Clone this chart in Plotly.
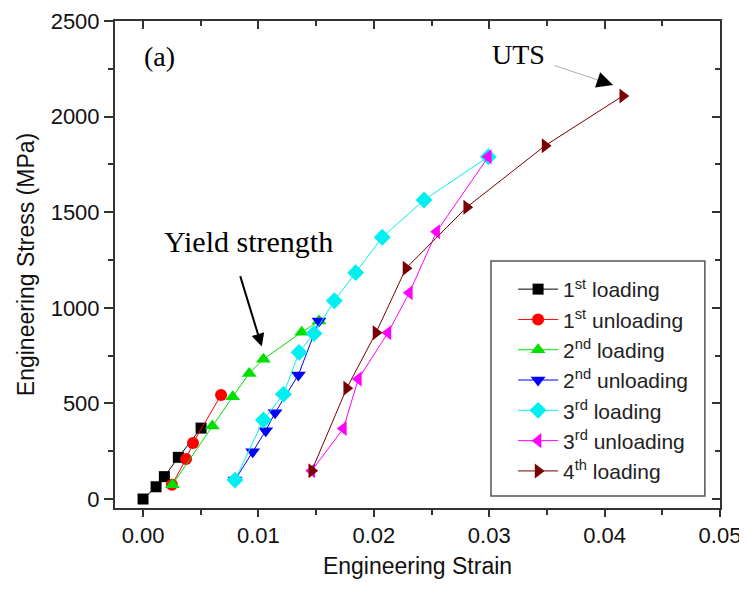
import plotly.graph_objects as go

# ---- data ----
load1_x = [0.0, 0.00113, 0.00185, 0.00306, 0.00503]
load1_y = [0, 64, 117, 218, 371]

unload1_x = [0.00676, 0.00433, 0.00373, 0.0025]
unload1_y = [544, 293, 209, 75]

load2_x = [0.00254, 0.0060, 0.00777, 0.0092, 0.01043, 0.01375, 0.01525]
load2_y = [75, 382, 535, 657, 731, 872, 931]

unload2_x = [0.01525, 0.01346, 0.01144, 0.01063, 0.0095, 0.00797]
unload2_y = [931, 649, 451, 357, 247, 99]

load3_x = [0.00797, 0.01043, 0.01217, 0.01352, 0.01482, 0.01658, 0.01843, 0.02073, 0.02435, 0.02992]
load3_y = [99, 413, 548, 767, 866, 1037, 1184, 1369, 1564, 1790]

unload3_x = [0.02992, 0.02544, 0.02308, 0.02123, 0.01866, 0.01736, 0.01462]
unload3_y = [1790, 1398, 1079, 870, 628, 369, 148]

load4_x = [0.01462, 0.01765, 0.02019, 0.02279, 0.02805, 0.03484, 0.04157]
load4_y = [148, 579, 870, 1207, 1526, 1848, 2108]

names = ["1<sup>st</sup> loading", "1<sup>st</sup> unloading", "2<sup>nd</sup> loading",
         "2<sup>nd</sup> unloading", "3<sup>rd</sup> loading", "3<sup>rd</sup> unloading",
         "4<sup>th</sup> loading"]
colors = ["#000000", "#ff0000", "#00e000", "#0000ff", "#00f0f0", "#ff00ff", "#7a0000"]
symbols = ["square", "circle", "triangle-up", "triangle-down", "diamond", "triangle-left", "triangle-right"]
xs = [load1_x, unload1_x, load2_x, unload2_x, load3_x, unload3_x, load4_x]
ys = [load1_y, unload1_y, load2_y, unload2_y, load3_y, unload3_y, load4_y]
sizes = [11, 12, 13, 13, 13, 13, 13]

x_ticks = [0, 0.01, 0.02, 0.03, 0.04, 0.05]
x_ticktext = ["0.00", "0.01", "0.02", "0.03", "0.04", "0.05"]
x_minor = [0.005, 0.015, 0.025, 0.035, 0.045]
y_ticks = [0, 500, 1000, 1500, 2000, 2500]
y_minor = [250, 750, 1250, 1750, 2250]

fig = go.Figure()
for n, c, s, x, y, sz in zip(names, colors, symbols, xs, ys, sizes):
    fig.add_trace(go.Scatter(x=x, y=y, name=n, mode="lines+markers",
                             line=dict(color=c, width=1),
                             marker=dict(color=c, symbol=s, size=sz, line=dict(width=0))))

# invisible trace for mirror axes
fig.add_trace(go.Scatter(x=[0], y=[0], xaxis="x2", yaxis="y2", mode="markers",
                         marker=dict(opacity=0), showlegend=False, hoverinfo="skip"))

XR = [-0.00243, 0.05]
YR = [-47, 2500]
axcol = "#333333"
fig.update_layout(
    width=739, height=584,
    margin=dict(l=107, r=27, t=13, b=84),
    paper_bgcolor="white", plot_bgcolor="white",
    font=dict(family="Liberation Sans, Arial", size=22, color="#111111"),
    showlegend=True,
    legend=dict(x=0.658, y=0.4908, xanchor="left", yanchor="top",
                borderwidth=0, bgcolor="rgba(0,0,0,0)",
                font=dict(size=21, color="#222222"), itemwidth=40, tracegroupgap=0),
    xaxis=dict(range=XR, tickvals=x_ticks, ticktext=x_ticktext,
               ticks="outside", ticklen=7, tickwidth=1.5, tickcolor=axcol,
               minor=dict(tickvals=x_minor, ticks="outside",
                          ticklen=5, tickcolor=axcol, tickwidth=1.5),
               showline=True, linecolor=axcol, linewidth=2, showgrid=False, zeroline=False,
               automargin=False,
               title=dict(text="Engineering Strain", font=dict(size=23), standoff=10)),
    yaxis=dict(range=YR, tickvals=y_ticks,
               ticks="outside", ticklen=9, tickwidth=1.5, tickcolor=axcol,
               minor=dict(tickvals=y_minor, ticks="outside",
                          ticklen=5, tickcolor=axcol, tickwidth=1.5),
               showline=True, linecolor=axcol, linewidth=2, showgrid=False, zeroline=False,
               automargin=False,
               title=dict(text="Engineering Stress (MPa)", font=dict(size=23), standoff=10)),
    xaxis2=dict(range=XR, overlaying="x", side="top", anchor="y",
                tickvals=x_ticks, showticklabels=False,
                ticks="inside", ticklen=8, tickwidth=1.5, tickcolor=axcol,
                minor=dict(tickvals=x_minor, ticks="inside",
                           ticklen=5, tickcolor=axcol, tickwidth=1.5),
                showline=True, linecolor=axcol, linewidth=2, showgrid=False, zeroline=False),
    yaxis2=dict(range=YR, overlaying="y", side="right", anchor="x",
                tickvals=y_ticks, showticklabels=False,
                ticks="inside", ticklen=8, tickwidth=1.5, tickcolor=axcol,
                minor=dict(tickvals=y_minor, ticks="inside",
                           ticklen=5, tickcolor=axcol, tickwidth=1.5),
                showline=True, linecolor=axcol, linewidth=2, showgrid=False, zeroline=False),
)

# legend frame
fig.add_shape(type="rect", xref="paper", yref="paper", x0=0.6215, x1=0.975, y0=0.0246, y1=0.507,
              line=dict(color="#555555", width=1.5), fillcolor="white", layer="above")

serif = "Liberation Serif, Times New Roman"
fig.add_annotation(x=-0.0001, y=2316, text="(a)", showarrow=False, xanchor="left",
                   font=dict(family=serif, size=28, color="black"))
# UTS arrow: thin grey shaft + black head
fig.add_annotation(x=0.04073, y=2165, text="", showarrow=True, arrowhead=0,
                   arrowwidth=0.8, arrowcolor="#999999", ax=-60, ay=-20)
fig.add_annotation(x=0.04073, y=2165, text="", showarrow=True, arrowhead=2, arrowsize=1.3,
                   arrowwidth=2.5, arrowcolor="black", ax=-6, ay=-2)
fig.add_annotation(x=0.0350, y=2327, text="UTS", showarrow=False, xanchor="right",
                   font=dict(family=serif, size=28, color="black"))
fig.add_annotation(x=0.01029, y=797, text="", showarrow=True, arrowhead=2, arrowsize=1.3,
                   arrowwidth=2, arrowcolor="black", ax=-22, ay=-72)
fig.add_annotation(x=0.0016, y=1349, text="Yield strength", showarrow=False, xanchor="left",
                   font=dict(family=serif, size=30, color="black"))

fig.write_html("out.html")
